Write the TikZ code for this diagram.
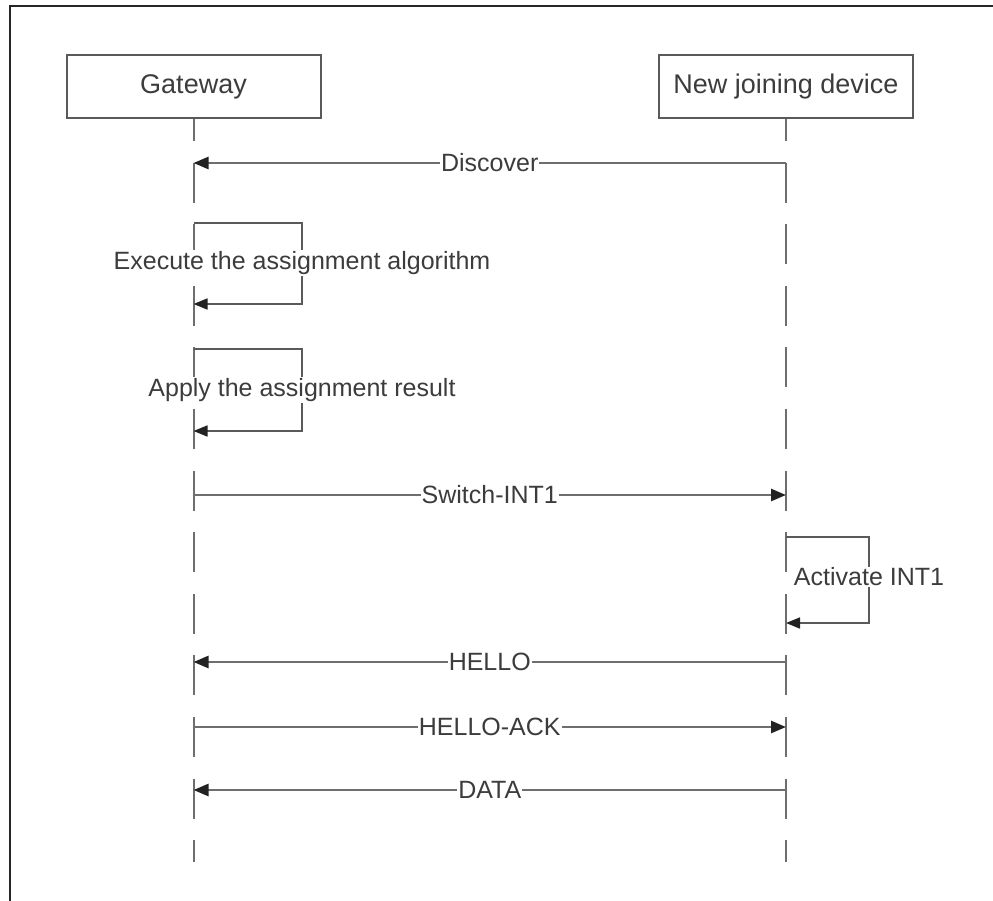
\documentclass[tikz,border=0pt]{standalone}
\usepackage{fontspec}
\setmainfont{Liberation Sans}
\usetikzlibrary{arrows.meta}
\definecolor{ln}{HTML}{6E6E6E}
\definecolor{bx}{HTML}{5A5A5A}
\definecolor{tx}{HTML}{3C3C3C}
\definecolor{ah}{HTML}{222222}
\begin{document}
\begin{tikzpicture}[x=1pt,y=-1pt,
  actor/.style={draw=bx, line width=2pt, minimum width=254pt, minimum height=63pt, inner sep=0pt, font=\fontsize{27}{32}\selectfont, text=tx},
  lifeline/.style={draw=ln, line width=2pt, dash pattern=on 40pt off 21.6pt, dash phase=18pt},
  msg/.style={draw=ln, line width=2.6pt, -{Triangle[length=15pt,width=12pt,color=ah]}},
  selfloop/.style={draw=bx, line width=1.7pt, -{Triangle[length=14pt,width=11pt,color=ah]}},
  lbl/.style={fill=white, text=tx, inner sep=1pt, font=\fontsize{25}{30}\selectfont}]
\useasboundingbox (0,0) rectangle (993,901);
% frame
\draw[line width=2pt, black!85] (993,6) -- (10,6) -- (10,901);
% actors
\node[actor] (gw) at (193.5,86.5) {Gateway};
\node[actor] (dev) at (786,86.5) {New joining device};
\coordinate (gwend) at (193.5,862);
\coordinate (devend) at (786,862);
\draw[lifeline] (gw.south) -- (gwend);
\draw[lifeline] (dev.south) -- (devend);
% message points
\coordinate (g1) at (193.5,163); \coordinate (d1) at (786,163);
\coordinate (g5) at (193.5,495); \coordinate (d5) at (786,495);
\coordinate (g7) at (193.5,662); \coordinate (d7) at (786,662);
\coordinate (g8) at (193.5,727); \coordinate (d8) at (786,727);
\coordinate (g9) at (193.5,790); \coordinate (d9) at (786,790);
% messages
\draw[msg] (d1) -- node[lbl] (m1) {Discover} (g1);
\draw[msg] (g5) -- node[lbl] (m5) {Switch-INT1} (d5);
\draw[msg] (d7) -- node[lbl] (m7) {HELLO} (g7);
\draw[msg] (g8) -- node[lbl] (m8) {HELLO-ACK} (d8);
\draw[msg] (d9) -- node[lbl] (m9) {DATA} (g9);
% self loops
\coordinate (g2a) at (193.5,223); \coordinate (g2b) at (193.5,304);
\draw[selfloop] (g2a) -- (302,223) -- (302,304) -- (g2b);
\node[lbl] (s2) at (302,263) {Execute the assignment algorithm};
\coordinate (g3a) at (193.5,349); \coordinate (g3b) at (193.5,431);
\draw[selfloop] (g3a) -- (302,349) -- (302,431) -- (g3b);
\node[lbl] (s3) at (302,390) {Apply the assignment result};
\coordinate (d6a) at (786,537); \coordinate (d6b) at (786,623);
\draw[selfloop] (d6a) -- (869,537) -- (869,623) -- (d6b);
\node[lbl] (s6) at (869,577) {Activate INT1};
\end{tikzpicture}
\end{document}
